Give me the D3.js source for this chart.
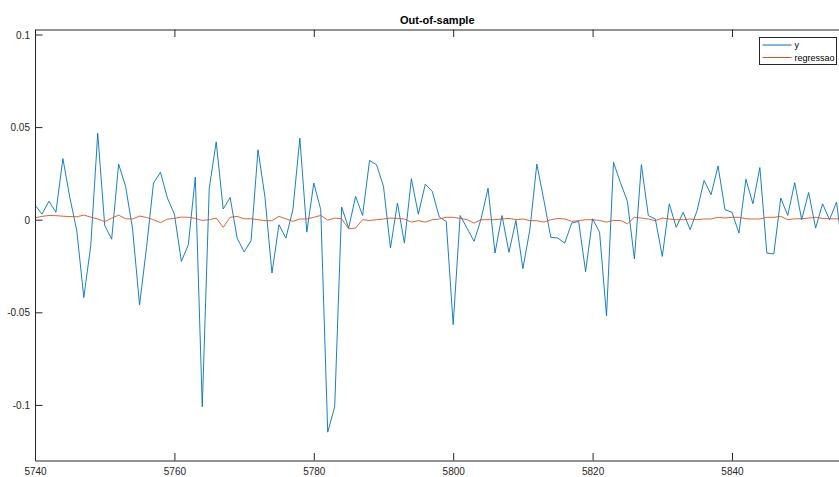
<!doctype html>
<meta charset="utf8">
<style>
  body { margin: 0; background: #fff; }
  svg { font-family: "Liberation Sans", Arial, sans-serif; }
</style>
<body>
<div id="chart"></div>
<script src="https://d3js.org/d3.v7.min.js"></script>
<script>
(function() {

const TITLE = "Out-of-sample";
const START = 5740;
const SERIES_NAMES = ["y", "regressao"];
const X_TICKS = [5740, 5760, 5780, 5800, 5820, 5840];
const Y_TICKS = [-0.1, -0.05, 0, 0.05, 0.1];
const Y_TICK_LABELS = ["-0.1", "-0.05", "0", "0.05", "0.1"];

// observed series, one value per step from START
const Y_VALUES = [
  0.008, 0.003, 0.010, 0.004, 0.033, 0.012, -0.006, -0.042, -0.014, 0.0467,
  -0.003, -0.0105, 0.030, 0.018, -0.005, -0.046, -0.015, 0.0198, 0.0256, 0.0117,
  0.003, -0.0225, -0.0135, 0.023, -0.101, 0.017, 0.042, 0.0058, 0.012, -0.0099,
  -0.0174, -0.0113, 0.0378, 0.012, -0.0288, -0.0027, -0.0099, 0.0054, 0.044, -0.0067,
  0.0198, 0.0054, -0.1147, -0.101, 0.0068, -0.0045, 0.0126, 0.0023, 0.032, 0.0297,
  0.018, -0.0153, 0.009, -0.0126, 0.0221, 0.003, 0.0192, 0.0153, 0.0015, -0.001,
  -0.0566, 0.0023, -0.0047, -0.0117, 0.0004, 0.017, -0.018, 0.0023, -0.0176, -0.0004,
  -0.0264, -0.0054, 0.030, 0.0108, -0.0095, -0.0099, -0.0126, -0.0018, -0.0009, -0.028,
  0.0005, -0.0067, -0.052, 0.031, 0.020, 0.0099, -0.0212, 0.0297, 0.0022, 0.0004,
  -0.0198, 0.0086, -0.0041, 0.004, -0.0054, 0.005, 0.0212, 0.0135, 0.029, 0.0054,
  0.004, -0.0072, 0.0219, 0.0086, 0.0282, -0.018, -0.0185, 0.0117, 0.0023, 0.020,
  0.0, 0.0147, -0.0045, 0.0086, 0.0, 0.0095, -0.02
];

// fitted regression series
const REG_VALUES = [
  0.0010, 0.0018, 0.0023, 0.0022, 0.0019, 0.0017, 0.0016, 0.0025, 0.0014, 0.0004,
  -0.0010, 0.0008, 0.0025, 0.0005, 0.0004, 0.0020, 0.0012, 0.0, -0.0016, 0.0003,
  0.0007, 0.0014, 0.0013, 0.0007, -0.0004, 0.0, 0.0009, -0.0041, 0.0013, 0.0018,
  0.0005, 0.0005, 0.0, -0.0005, -0.0005, 0.0018, 0.0005, -0.0009, 0.0004, 0.0004,
  0.0013, 0.0023, -0.0002, 0.0009, 0.0005, -0.0049, -0.0045, 0.0, -0.0004, 0.0,
  0.0004, 0.0009, 0.0007, 0.0004, -0.0013, -0.0005, -0.0013, 0.0, 0.0004, 0.0013,
  0.0013, 0.0007, 0.0, -0.0018, 0.0, 0.0, 0.0, 0.0004, 0.0007, 0.0,
  0.0004, -0.0005, -0.0005, -0.0013, 0.0, 0.0007, 0.0004, -0.0009, -0.0005, 0.0,
  0.0, -0.0004, -0.0013, -0.0004, -0.0004, -0.0022, 0.0013, 0.0009, 0.0004, -0.0005,
  0.0009, 0.0004, 0.0, 0.0, 0.0004, 0.0, 0.0004, 0.0004, 0.0013, 0.0009,
  0.0013, 0.0013, 0.0005, 0.0004, 0.0004, 0.0013, 0.0013, 0.0018, 0.0, 0.0005,
  0.0005, 0.0009, 0.0013, 0.0007, 0.0005, 0.0005, 0.0005
];

const COLORS = ["#0072BD", "#D95319"];
const AXIS_COLOR = "#262626";
const TICK_LEN = 7.5;

const width = 839;
const height = 477;
const plot = {left: 35, top: 29.5, right: 843.5, bottom: 460.5};

const x = d3.scaleLinear()
  .domain([START, START + Y_VALUES.length - 1])
  .range([plot.left, plot.right]);

const y = d3.scaleLinear()
  .domain([-0.13, 0.1027])
  .range([plot.bottom, plot.top]);

const svg = d3.select("#chart").append("svg")
  .attr("width", width)
  .attr("height", height);

svg.append("defs").append("clipPath")
    .attr("id", "clip")
  .append("rect")
    .attr("x", plot.left)
    .attr("y", plot.top)
    .attr("width", plot.right - plot.left)
    .attr("height", plot.bottom - plot.top);

// series
const line = d3.line()
  .x((d, i) => x(START + i))
  .y(d => y(d));

const lines = svg.append("g").attr("clip-path", "url(#clip)");
[Y_VALUES, REG_VALUES].forEach((values, i) => {
  lines.append("path")
    .datum(values)
    .attr("fill", "none")
    .attr("stroke", COLORS[i])
    .attr("stroke-width", 0.9)
    .attr("stroke-linejoin", "round")
    .attr("d", line);
});

// axes, ticks pointing inward like matlab
const xAxis = svg.append("g")
  .attr("transform", `translate(0,${plot.bottom})`)
  .call(d3.axisBottom(x).tickValues(X_TICKS).tickSizeInner(-TICK_LEN).tickSizeOuter(0).tickPadding(6).tickFormat(d3.format("d")));

const xAxisTop = svg.append("g")
  .attr("transform", `translate(0,${plot.top})`)
  .call(d3.axisTop(x).tickValues(X_TICKS).tickSizeInner(-TICK_LEN).tickSizeOuter(0).tickFormat(""));

const yAxis = svg.append("g")
  .attr("transform", `translate(${plot.left},0)`)
  .call(d3.axisLeft(y).tickValues(Y_TICKS).tickSizeInner(-TICK_LEN).tickSizeOuter(0).tickPadding(5)
    .tickFormat((d, i) => Y_TICK_LABELS[i]));

for (const g of [xAxis, xAxisTop, yAxis]) {
  g.select(".domain").attr("stroke", AXIS_COLOR).attr("stroke-width", 1);
  g.selectAll(".tick line").attr("stroke", AXIS_COLOR).attr("stroke-width", 1);
  g.selectAll(".tick text")
    .attr("fill", AXIS_COLOR)
    .style("font-size", "10px")
    .style("font-family", "'Liberation Sans', Arial, sans-serif");
}
xAxis.selectAll(".tick text").attr("dy", "0.82em");
yAxis.selectAll(".tick text").attr("dy", "0.35em");

// title
svg.append("text")
  .attr("x", (plot.left + plot.right) / 2 - 2)
  .attr("y", 24)
  .attr("text-anchor", "middle")
  .attr("font-weight", "bold")
  .attr("font-size", 11)
  .attr("fill", "#000")
  .text(TITLE);

// legend
const legend = svg.append("g").attr("transform", "translate(759.5,37.5)");
legend.append("rect")
  .attr("width", 77)
  .attr("height", 27)
  .attr("fill", "#fff")
  .attr("stroke", AXIS_COLOR)
  .attr("stroke-width", 1);

SERIES_NAMES.forEach((name, i) => {
  const row = legend.append("g").attr("transform", `translate(0,${7.5 + i * 12.5})`);
  row.append("line")
    .attr("x1", 3).attr("x2", 32)
    .attr("stroke", COLORS[i])
    .attr("stroke-width", 1);
  row.append("text")
    .attr("x", 35)
    .attr("y", 3)
    .attr("font-size", 9)
    .attr("fill", "#000")
    .text(name);
});

})();
</script>
